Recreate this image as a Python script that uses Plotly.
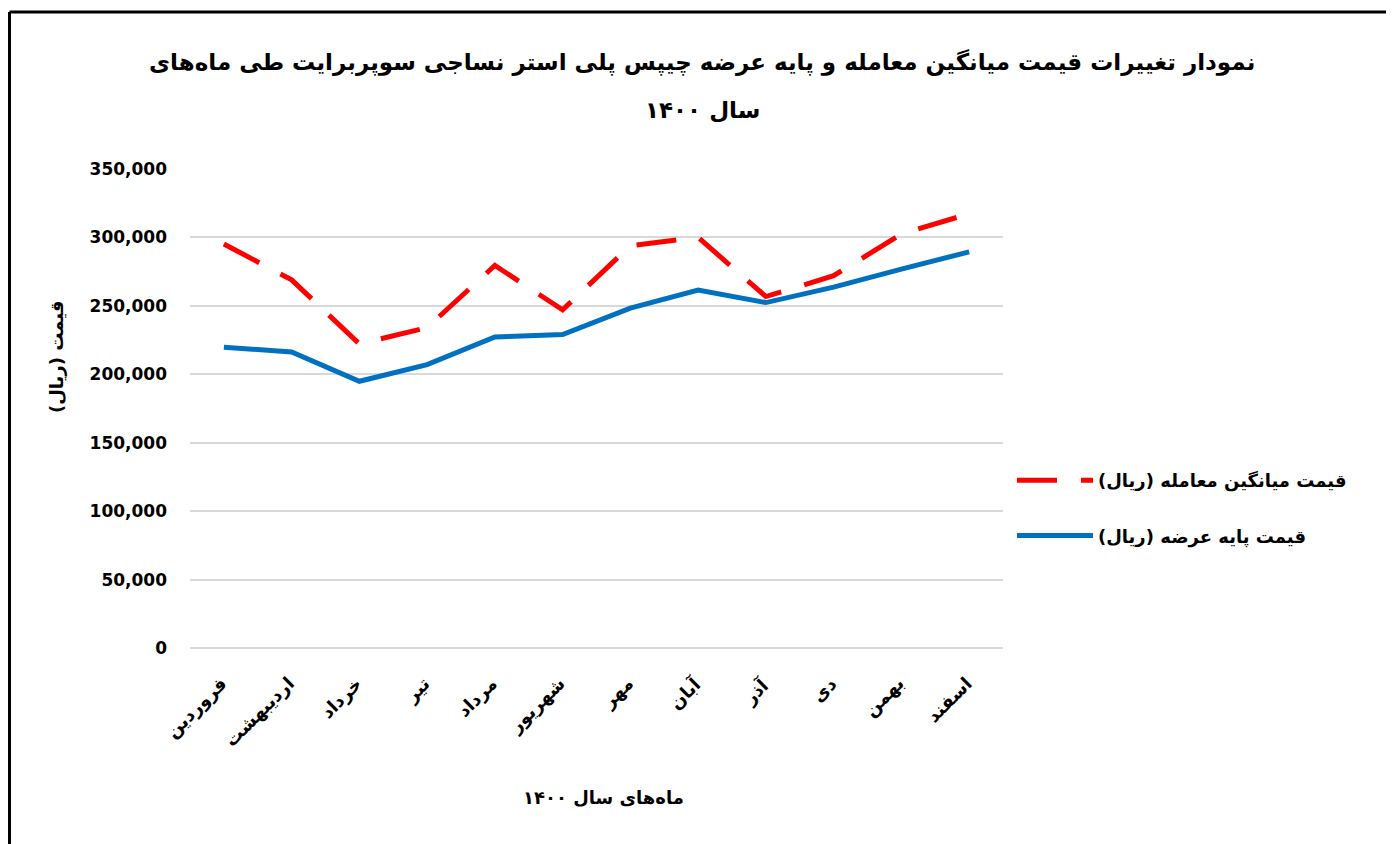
import plotly.graph_objects as go

months = ["فروردین", "اردیبهشت", "خرداد", "تیر", "مرداد", "شهریور",
          "مهر", "آبان", "آذر", "دی", "بهمن", "اسفند"]
avg_price = [295200, 269000, 222200, 234100, 279500, 247100,
             294000, 300000, 256800, 272000, 302500, 317300]
base_price = [219800, 216300, 194900, 207100, 227300, 229000,
              248300, 261500, 252400, 263700, 276800, 289500]
y_ticks = [0, 50000, 100000, 150000, 200000, 250000, 300000, 350000]

name_avg = "قیمت میانگین معامله (ریال)"
name_base = "قیمت پایه عرضه (ریال)"
title_l1 = "نمودار تغییرات قیمت میانگین معامله و پایه عرضه چیپس پلی استر نساجی سوپربرایت طی ماه‌های"
title_l2 = "سال ۱۴۰۰"
x_title = "ماه‌های سال ۱۴۰۰"
y_title = "قیمت (ریال)"

OFF = 8  # page body margin
W, H = 1394 - OFF, 844 - OFF
# plot area in screen pixels: x 190..1003, y 169..648
L = 190 - OFF
T = 169 - OFF
R = W - (1003 - OFF)
B = H - (648 - OFF)
pw, ph = W - L - R, H - T - B

def px(x):
    return (x - OFF - L) / pw

def py(y):
    return (H - B - (y - OFF)) / ph

fa = "DejaVu Sans"

fig = go.Figure()
fig.add_trace(go.Scatter(
    x=months, y=avg_price, name=name_avg, mode="lines",
    line=dict(color="#FF0000", width=5, dash="40px,24px"),
    legendgroup="a"))
fig.add_trace(go.Scatter(
    x=months, y=base_price, name=name_base, mode="lines",
    line=dict(color="#0070C0", width=5),
    legendgroup="b"))

annotations = [
    dict(text=title_l1, xref="paper", yref="paper", x=px(702), y=py(62),
         xanchor="center", yanchor="middle", showarrow=False,
         font=dict(family=fa, size=23, color="black", weight="bold")),
    dict(text=title_l2, xref="paper", yref="paper", x=px(702), y=py(110),
         xanchor="center", yanchor="middle", showarrow=False,
         font=dict(family=fa, size=23, color="black", weight="bold")),
    dict(text=x_title, xref="paper", yref="paper", x=px(603), y=py(797),
         xanchor="center", yanchor="middle", showarrow=False,
         font=dict(family=fa, size=18, color="black", weight="bold")),
    dict(text=y_title, xref="paper", yref="paper", x=px(56), y=py(357),
         xanchor="center", yanchor="middle", showarrow=False, textangle=-90,
         font=dict(family=fa, size=18, color="black", weight="bold")),
]
for m in months:
    annotations.append(dict(
        text=m, xref="x", yref="y", x=m, y=0,
        xanchor="right", yanchor="top", showarrow=False, textangle=-45,
        xshift=10, yshift=-22,
        font=dict(family=fa, size=18, color="black", weight="bold")))

fig.update_layout(
    width=W, height=H,
    margin=dict(l=L, r=R, t=T, b=B),
    paper_bgcolor="white", plot_bgcolor="white",
    showlegend=True,
    legend=dict(x=px(1012), y=py(508), xanchor="left", yanchor="middle",
                font=dict(family=fa, size=18, color="black", weight="bold"),
                tracegroupgap=29, traceorder="grouped", itemwidth=76),
    xaxis=dict(type="category", categoryarray=months,
               range=[-0.5, len(months) - 0.5], autorange=False,
               showgrid=False, showline=False, ticks="", showticklabels=False),
    yaxis=dict(range=[0, 350000], autorange=False, tickvals=y_ticks,
               tickformat=",d",
               showgrid=True, gridcolor="#D9D9D9", gridwidth=1.5,
               zeroline=True, zerolinecolor="#D9D9D9", zerolinewidth=1.5,
               showline=False, ticks="",
               tickfont=dict(family="DejaVu Sans", size=17, color="black",
                             weight="bold"),
               ticklabelstandoff=22),
    annotations=annotations,
    shapes=[
        dict(type="line", xref="paper", yref="paper",
             x0=px(9.5), x1=px(1420), y0=py(12), y1=py(12),
             line=dict(color="black", width=3)),
        dict(type="line", xref="paper", yref="paper",
             x0=px(9.5), x1=px(9.5), y0=py(12), y1=py(870),
             line=dict(color="black", width=3)),
    ],
)

fig.write_html("out.html")
